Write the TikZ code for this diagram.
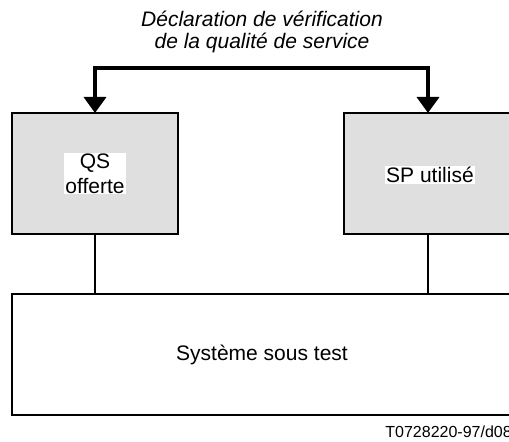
\documentclass[tikz,border=0pt]{standalone}
\usepackage{fontspec}
\setmainfont{Liberation Sans}
\usetikzlibrary{positioning}
\usetikzlibrary{arrows.meta}

\begin{document}
\begin{tikzpicture}[x=0.5pt,y=-0.5pt,
	box/.style={draw, line width=0.7pt, inner sep=0pt, outer sep=0pt, minimum height=60.5pt},
	boxtext/.style={fill=white, inner sep=0.5pt, align=center, font=\fontsize{10.5}{12.5}\selectfont},
	decl/.style={-{Triangle[length=8pt,width=11pt]}, line width=1.8pt}]

	\useasboundingbox (0,0) rectangle (509,442);
	\clip (0,0) rectangle (509,442);

	% Title %
	\node [align=center, font=\fontsize{10.5}{10.8}\selectfont\itshape] (title) at (262,32) {D\'eclaration de v\'erification\\de la qualit\'e de service};

	% Boxes %
	\node [box, fill=gray!25, minimum width=83pt] (qs) at (95,173.5) {};
	\node [box, fill=gray!25, minimum width=84pt] (sp) at (428,173.5) {};
	\node [box, fill=white, minimum width=250pt] (sut) at (262,354.5) {};
	\node [boxtext] (qstext) at (qs) {QS\\offerte};
	\node [boxtext] (sptext) at (430,175) {SP utilis\'e};
	\node [font=\fontsize{10.5}{12.5}\selectfont] (suttext) at (sut) {Syst\`eme sous test};

	% Declaration arrows %
	\coordinate (split) at (262,68);
	\draw [decl] (split) -| (qs.north);
	\draw [decl] (split) -| (sp.north);

	% Links %
	\draw [line width=0.9pt] (qs.south) -- (qs.south |- sut.north);
	\draw [line width=0.9pt] (sp.south) -- (sp.south |- sut.north);

	% Reference %
	\node [anchor=west, inner sep=0pt, font=\fontsize{8}{9}\selectfont] (ref) at (385,432) {T0728220-97/d08};
\end{tikzpicture}
\end{document}
